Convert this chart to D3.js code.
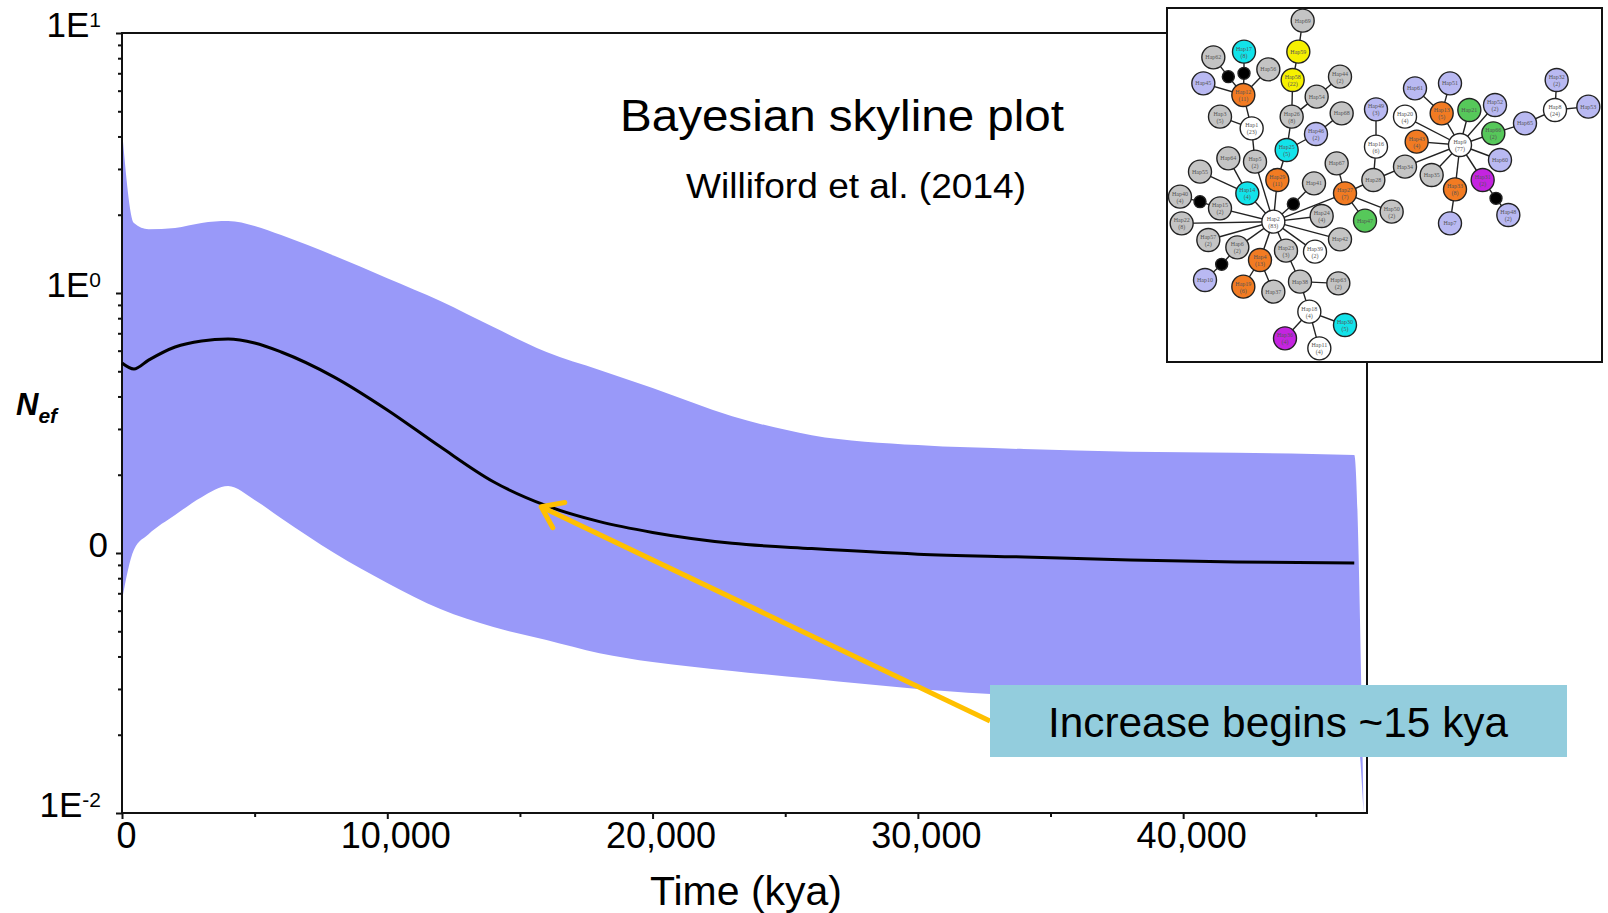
<!DOCTYPE html>
<html lang="en">
<head>
<meta charset="UTF-8">
<title>Bayesian skyline plot</title>
<style>
  body { margin: 0; background: #fff; }
  svg { display: block; font-family: "Liberation Sans", Arial, sans-serif; }
</style>
</head>
<body>
<svg width="1608" height="913"></svg>
<script src="https://d3js.org/d3.v7.min.js"></script>
<script>
// ---- skyline data (time in years before present, Nef on log scale) ----
var times  = [0, 450, 1000, 2000, 3000, 4000, 5000, 6000, 8000, 10000, 12000, 14000, 16000, 18000, 20000, 23000, 26000, 30000, 34000, 38000, 42000, 46450, 46800];
var upper  = [4.24, 1.86, 1.76, 1.78, 1.86, 1.89, 1.81, 1.67, 1.39, 1.14, 0.932, 0.740, 0.593, 0.506, 0.431, 0.336, 0.284, 0.260, 0.251, 0.245, 0.243, 0.238, 0.01];
var median = [0.538, 0.510, 0.552, 0.620, 0.654, 0.665, 0.642, 0.593, 0.475, 0.355, 0.256, 0.188, 0.152, 0.132, 0.120, 0.109, 0.104, 0.099, 0.0965, 0.094, 0.0923, 0.0915, null];
var lower  = [0.066, 0.103, 0.118, 0.140, 0.164, 0.181, 0.160, 0.136, 0.100, 0.0767, 0.0609, 0.0519, 0.0463, 0.0412, 0.0381, 0.0352, 0.0328, 0.0300, 0.0282, 0.0272, 0.0265, 0.0260, 0.01];

var xTicks = [0, 10000, 20000, 30000, 40000];
var xMinor = [5000, 15000, 25000, 35000, 45000];
var yTicks = [10, 1, 0.1, 0.01];
var yTickLabels = [["1E", "1"], ["1E", "0"], ["0", ""], ["1E", "-2"]];

// ---- haplotype network inset: [id, label, count, group, layoutX, layoutY] ----
var hapNodes = [
  ["Hap69", "Hap69", "", "gray", 428, 62],
  ["Hap59", "Hap59", "", "yellow", 415, 155],
  ["Hap58", "Hap58", "(22)", "yellow", 398, 240],
  ["Hap62", "Hap62", "", "gray", 160, 172],
  ["Hap17", "Hap17", "(8)", "cyan", 252, 155],
  ["Hap56", "Hap56", "", "gray", 325, 208],
  ["d1", "", "", "dot", 205, 230],
  ["d2", "", "", "dot", 252, 220],
  ["Hap45", "Hap45", "", "lav", 130, 250],
  ["Hap12", "Hap12", "(11)", "orange", 250, 285],
  ["Hap44", "Hap44", "(2)", "gray", 540, 230],
  ["Hap54", "Hap54", "", "gray", 470, 290],
  ["Hap26", "Hap26", "(8)", "gray", 395, 350],
  ["Hap68", "Hap68", "", "gray", 545, 340],
  ["Hap3", "Hap3", "(5)", "gray", 180, 350],
  ["Hap1", "Hap1", "(23)", "white", 275, 385],
  ["Hap46", "Hap46", "(2)", "lav", 468, 402],
  ["Hap25", "Hap25", "(5)", "cyan", 380, 450],
  ["Hap64", "Hap64", "", "gray", 205, 475],
  ["Hap5", "Hap5", "(2)", "gray", 285, 485],
  ["Hap67", "Hap67", "", "gray", 530, 490],
  ["Hap55", "Hap55", "", "gray", 120, 515],
  ["Hap29", "Hap29", "(11)", "orange", 352, 540],
  ["Hap41", "Hap41", "", "gray", 462, 550],
  ["Hap14", "Hap14", "(4)", "cyan", 262, 580],
  ["Hap40", "Hap40", "(4)", "gray", 60, 590],
  ["d3", "", "", "dot", 120, 605],
  ["Hap15", "Hap15", "(2)", "gray", 180, 625],
  ["d4", "", "", "dot", 400, 612],
  ["Hap2", "Hap2", "(83)", "white", 340, 665],
  ["Hap24", "Hap24", "(4)", "gray", 485, 648],
  ["Hap22", "Hap22", "(8)", "gray", 65, 670],
  ["Hap42", "Hap42", "", "gray", 540, 718],
  ["Hap57", "Hap57", "(2)", "gray", 145, 720],
  ["Hap6", "Hap6", "(2)", "gray", 232, 742],
  ["Hap23", "Hap23", "(3)", "gray", 378, 752],
  ["Hap39", "Hap39", "(2)", "white", 465, 755],
  ["Hap4", "Hap4", "(13)", "orange", 300, 780],
  ["d5", "", "", "dot", 185, 793],
  ["Hap10", "Hap10", "", "lav", 135, 840],
  ["Hap19", "Hap19", "(6)", "orange", 250, 860],
  ["Hap37", "Hap37", "", "gray", 340, 875],
  ["Hap38", "Hap38", "", "gray", 420, 845],
  ["Hap63", "Hap63", "(2)", "gray", 535, 850],
  ["Hap18", "Hap18", "(4)", "white", 448, 935],
  ["Hap30", "Hap30", "(5)", "cyan", 555, 975],
  ["Hap36", "Hap36", "(4)", "magenta", 375, 1015],
  ["Hap11", "Hap11", "(4)", "white", 478, 1045],
  ["Hap27", "Hap27", "(7)", "orange", 555, 580],
  ["Hap47", "Hap47", "", "green", 615, 662],
  ["Hap50", "Hap50", "(2)", "gray", 695, 635],
  ["Hap28", "Hap28", "", "gray", 640, 540],
  ["Hap16", "Hap16", "(6)", "white", 648, 440],
  ["Hap49", "Hap49", "(3)", "lav", 648, 328],
  ["Hap34", "Hap34", "", "gray", 735, 500],
  ["Hap20", "Hap20", "(4)", "white", 735, 350],
  ["Hap61", "Hap61", "", "lav", 765, 265],
  ["Hap51", "Hap51", "", "lav", 870, 250],
  ["Hap13", "Hap13", "(5)", "orange", 845, 340],
  ["Hap21", "Hap21", "", "green", 928, 330],
  ["Hap52", "Hap52", "(2)", "lav", 1005, 315],
  ["Hap43", "Hap43", "(4)", "orange", 770, 425],
  ["Hap9", "Hap9", "(77)", "white", 900, 435],
  ["Hap66", "Hap66", "(2)", "green", 1000, 400],
  ["Hap65", "Hap65", "", "lav", 1095, 370],
  ["Hap8", "Hap8", "(24)", "white", 1185, 330],
  ["Hap32", "Hap32", "(2)", "lav", 1190, 240],
  ["Hap53", "Hap53", "", "lav", 1285, 320],
  ["Hap60", "Hap60", "", "lav", 1020, 480],
  ["Hap35", "Hap35", "", "gray", 815, 525],
  ["Hap31", "Hap31", "(2)", "magenta", 968, 540],
  ["Hap33", "Hap33", "(8)", "orange", 885, 568],
  ["d6", "", "", "dot", 1008, 595],
  ["Hap48", "Hap48", "(2)", "lav", 1045, 645],
  ["Hap7", "Hap7", "", "lav", 870, 670]
];
var hapLinks = [
  ["Hap69", "Hap59"], ["Hap59", "Hap58"], ["Hap58", "Hap26"], ["Hap44", "Hap54"], ["Hap54", "Hap26"],
  ["Hap26", "Hap25"], ["Hap25", "Hap46"], ["Hap46", "Hap68"], ["Hap25", "Hap29"], ["Hap29", "Hap2"],
  ["Hap62", "d1"], ["d1", "Hap12"], ["Hap17", "d2"], ["d2", "Hap12"], ["Hap56", "Hap12"], ["Hap45", "Hap12"],
  ["Hap12", "Hap1"], ["Hap3", "Hap1"], ["Hap1", "Hap5"], ["Hap5", "Hap2"],
  ["Hap64", "Hap14"], ["Hap55", "Hap14"], ["Hap14", "Hap2"],
  ["Hap40", "d3"], ["d3", "Hap15"], ["Hap15", "Hap2"], ["Hap22", "Hap2"], ["Hap57", "Hap2"],
  ["Hap6", "Hap2"], ["Hap6", "d5"], ["d5", "Hap10"], ["Hap4", "Hap2"], ["Hap4", "Hap19"], ["Hap4", "Hap37"],
  ["Hap23", "Hap2"], ["Hap23", "Hap38"], ["Hap38", "Hap63"], ["Hap38", "Hap18"],
  ["Hap18", "Hap30"], ["Hap18", "Hap36"], ["Hap18", "Hap11"],
  ["Hap39", "Hap2"], ["Hap42", "Hap2"], ["Hap24", "Hap2"], ["Hap2", "d4"], ["d4", "Hap41"],
  ["Hap2", "Hap27"], ["Hap67", "Hap27"], ["Hap27", "Hap47"], ["Hap27", "Hap50"], ["Hap27", "Hap28"],
  ["Hap28", "Hap16"], ["Hap16", "Hap49"], ["Hap28", "Hap34"], ["Hap34", "Hap9"],
  ["Hap9", "Hap20"], ["Hap9", "Hap13"], ["Hap9", "Hap21"], ["Hap9", "Hap52"], ["Hap9", "Hap43"],
  ["Hap9", "Hap66"], ["Hap9", "Hap60"], ["Hap9", "Hap35"], ["Hap9", "Hap31"], ["Hap9", "Hap33"],
  ["Hap13", "Hap61"], ["Hap13", "Hap51"], ["Hap66", "Hap65"], ["Hap65", "Hap8"], ["Hap8", "Hap32"],
  ["Hap8", "Hap53"], ["Hap31", "d6"], ["d6", "Hap48"], ["Hap33", "Hap7"]
];
var hapColors = {gray: "#c4c4c4", white: "#ffffff", lav: "#b9b9f2", orange: "#f27b22",
                 cyan: "#12e3ea", yellow: "#f6f000", green: "#56c85a", magenta: "#c424e0", dot: "#000000"};

var svg = d3.select("svg");

var x = d3.scaleLinear().domain([0, 46930]).range([122, 1367]);
var y = d3.scaleLog().domain([0.01, 10]).range([813, 33]);

// credible interval band
var band = d3.area()
    .x(function(d, i) { return x(times[i]); })
    .y0(function(d, i) { return y(lower[i]); })
    .y1(function(d, i) { return y(upper[i]); })
    .curve(d3.curveMonotoneX);

svg.append("path")
    .datum(times)
    .attr("d", band)
    .attr("fill", "#9999f9");

// frame
svg.append("rect")
    .attr("x", x(0)).attr("y", y(10))
    .attr("width", x(46930) - x(0)).attr("height", y(0.01) - y(10))
    .attr("fill", "none").attr("stroke", "#111").attr("stroke-width", 2);

// y axis ticks
var yMinor = [];
[0.01, 0.1, 1].forEach(function(dec) {
    for (var k = 2; k <= 9; k++) yMinor.push(dec * k);
});
svg.append("g")
    .attr("transform", "translate(" + x(0) + ",0)")
    .call(d3.axisLeft(y).tickValues(yTicks).tickSize(6).tickFormat(""))
    .call(function(g) { g.select(".domain").remove(); })
    .selectAll("line").attr("stroke", "#111").attr("stroke-width", 2);
svg.append("g")
    .attr("transform", "translate(" + x(0) + ",0)")
    .call(d3.axisLeft(y).tickValues(yMinor).tickSize(4).tickFormat(""))
    .call(function(g) { g.select(".domain").remove(); })
    .selectAll("line").attr("stroke", "#111").attr("stroke-width", 2);

var yl = svg.append("g").selectAll("text")
    .data(yTicks)
    .join("text")
    .attr("x", function(d, i) { return yTickLabels[i][1] ? 101 : 108; })
    .attr("y", function(d) { return y(d) + 4; })
    .attr("text-anchor", "end")
    .attr("font-size", 35)
    .attr("fill", "#000");
yl.append("tspan").text(function(d, i) { return yTickLabels[i][0]; });
yl.append("tspan")
    .attr("font-size", 21)
    .attr("dy", -10)
    .text(function(d, i) { return yTickLabels[i][1]; });

// x axis ticks
svg.append("g")
    .attr("transform", "translate(0," + y(0.01) + ")")
    .call(d3.axisBottom(x).tickValues(xMinor).tickSize(4).tickFormat(""))
    .call(function(g) { g.select(".domain").remove(); })
    .selectAll("line").attr("stroke", "#111").attr("stroke-width", 2);
var xa = svg.append("g")
    .attr("transform", "translate(0," + y(0.01) + ")")
    .call(d3.axisBottom(x).tickValues(xTicks).tickSize(6).tickFormat(d3.format(",")))
    .call(function(g) { g.select(".domain").remove(); });
xa.selectAll("line").attr("stroke", "#111").attr("stroke-width", 2);
xa.selectAll("text")
    .attr("y", 35).attr("dy", 0)
    .attr("dx", function(d) { return d ? 8 : 4; })
    .attr("font-size", 36)
    .attr("font-family", "Liberation Sans, Arial, sans-serif")
    .attr("fill", "#000");

// median line
var medLine = d3.line()
    .defined(function(d, i) { return median[i] != null; })
    .x(function(d, i) { return x(times[i]); })
    .y(function(d, i) { return y(median[i]); })
    .curve(d3.curveMonotoneX);
svg.append("path")
    .datum(times)
    .attr("d", medLine)
    .attr("fill", "none")
    .attr("stroke", "#000")
    .attr("stroke-width", 3);

// axis titles
svg.append("text")
    .attr("x", 746).attr("y", 905)
    .attr("text-anchor", "middle")
    .attr("font-size", 40)
    .attr("textLength", 192).attr("lengthAdjust", "spacingAndGlyphs")
    .text("Time (kya)");

var nl = svg.append("text")
    .attr("x", 16).attr("y", 415)
    .attr("font-weight", "bold").attr("font-style", "italic");
nl.append("tspan").attr("font-size", 31).text("N");
nl.append("tspan").attr("font-size", 21).attr("dy", 8).text("ef");

// titles
svg.append("text")
    .attr("x", 620).attr("y", 131)
    .attr("font-size", 44)
    .attr("textLength", 444).attr("lengthAdjust", "spacingAndGlyphs")
    .text("Bayesian skyline plot");
svg.append("text")
    .attr("x", 686).attr("y", 198)
    .attr("font-size", 35)
    .attr("textLength", 340).attr("lengthAdjust", "spacingAndGlyphs")
    .text("Williford et al. (2014)");

// callout arrow
var tip = [x(15800), y(median[12]) + 1];
var tail = [990, 721];
var ang = Math.atan2(tail[1] - tip[1], tail[0] - tip[0]);
svg.append("line")
    .attr("x1", tip[0]).attr("y1", tip[1]).attr("x2", tail[0]).attr("y2", tail[1])
    .attr("stroke", "#ffc000").attr("stroke-width", 5);
svg.append("path")
    .attr("d", d3.line()([
        [tip[0] + 24 * Math.cos(ang - 0.62), tip[1] + 24 * Math.sin(ang - 0.62)],
        tip,
        [tip[0] + 24 * Math.cos(ang + 0.62), tip[1] + 24 * Math.sin(ang + 0.62)]
    ]))
    .attr("fill", "none").attr("stroke", "#ffc000").attr("stroke-width", 5)
    .attr("stroke-linecap", "round").attr("stroke-linejoin", "round");

svg.append("rect")
    .attr("x", 990).attr("y", 685).attr("width", 577).attr("height", 72)
    .attr("fill", "#93cddd");
svg.append("text")
    .attr("x", 1048).attr("y", 737)
    .attr("font-size", 42)
    .attr("textLength", 460).attr("lengthAdjust", "spacingAndGlyphs")
    .text("Increase begins ~15 kya");

// network inset
var inset = svg.append("g");
inset.append("rect")
    .attr("x", 1167).attr("y", 8).attr("width", 435).attr("height", 354)
    .attr("fill", "#fff").attr("stroke", "#111").attr("stroke-width", 2);

var nx = d3.scaleLinear().domain([0, 1344]).range([1160, 1608]);
var ny = d3.scaleLinear().domain([0, 1110]).range([0, 370]);
var byId = {};
hapNodes.forEach(function(n) { byId[n[0]] = n; });

inset.selectAll("line.link")
    .data(hapLinks)
    .join("line")
    .attr("class", "link")
    .attr("x1", function(l) { return nx(byId[l[0]][4]); })
    .attr("y1", function(l) { return ny(byId[l[0]][5]); })
    .attr("x2", function(l) { return nx(byId[l[1]][4]); })
    .attr("y2", function(l) { return ny(byId[l[1]][5]); })
    .attr("stroke", "#222").attr("stroke-width", 1.4);

var ng = inset.selectAll("g.node")
    .data(hapNodes)
    .join("g")
    .attr("class", "node")
    .attr("transform", function(n) { return "translate(" + nx(n[4]) + "," + ny(n[5]) + ")"; });
ng.append("circle")
    .attr("r", function(n) { return n[3] === "dot" ? 6 : 11.5; })
    .attr("fill", function(n) { return hapColors[n[3]]; })
    .attr("stroke", "#222").attr("stroke-width", 1.4);
ng.filter(function(n) { return n[1]; }).append("text")
    .attr("text-anchor", "middle")
    .attr("y", function(n) { return n[2] ? -1 : 2; })
    .attr("font-size", 6)
    .attr("font-family", "Liberation Serif, serif")
    .attr("fill", "#555")
    .text(function(n) { return n[1]; });
ng.filter(function(n) { return n[2]; }).append("text")
    .attr("text-anchor", "middle")
    .attr("y", 6)
    .attr("font-size", 6)
    .attr("font-family", "Liberation Serif, serif")
    .attr("fill", "#555")
    .text(function(n) { return n[2]; });
</script>
</body>
</html>
